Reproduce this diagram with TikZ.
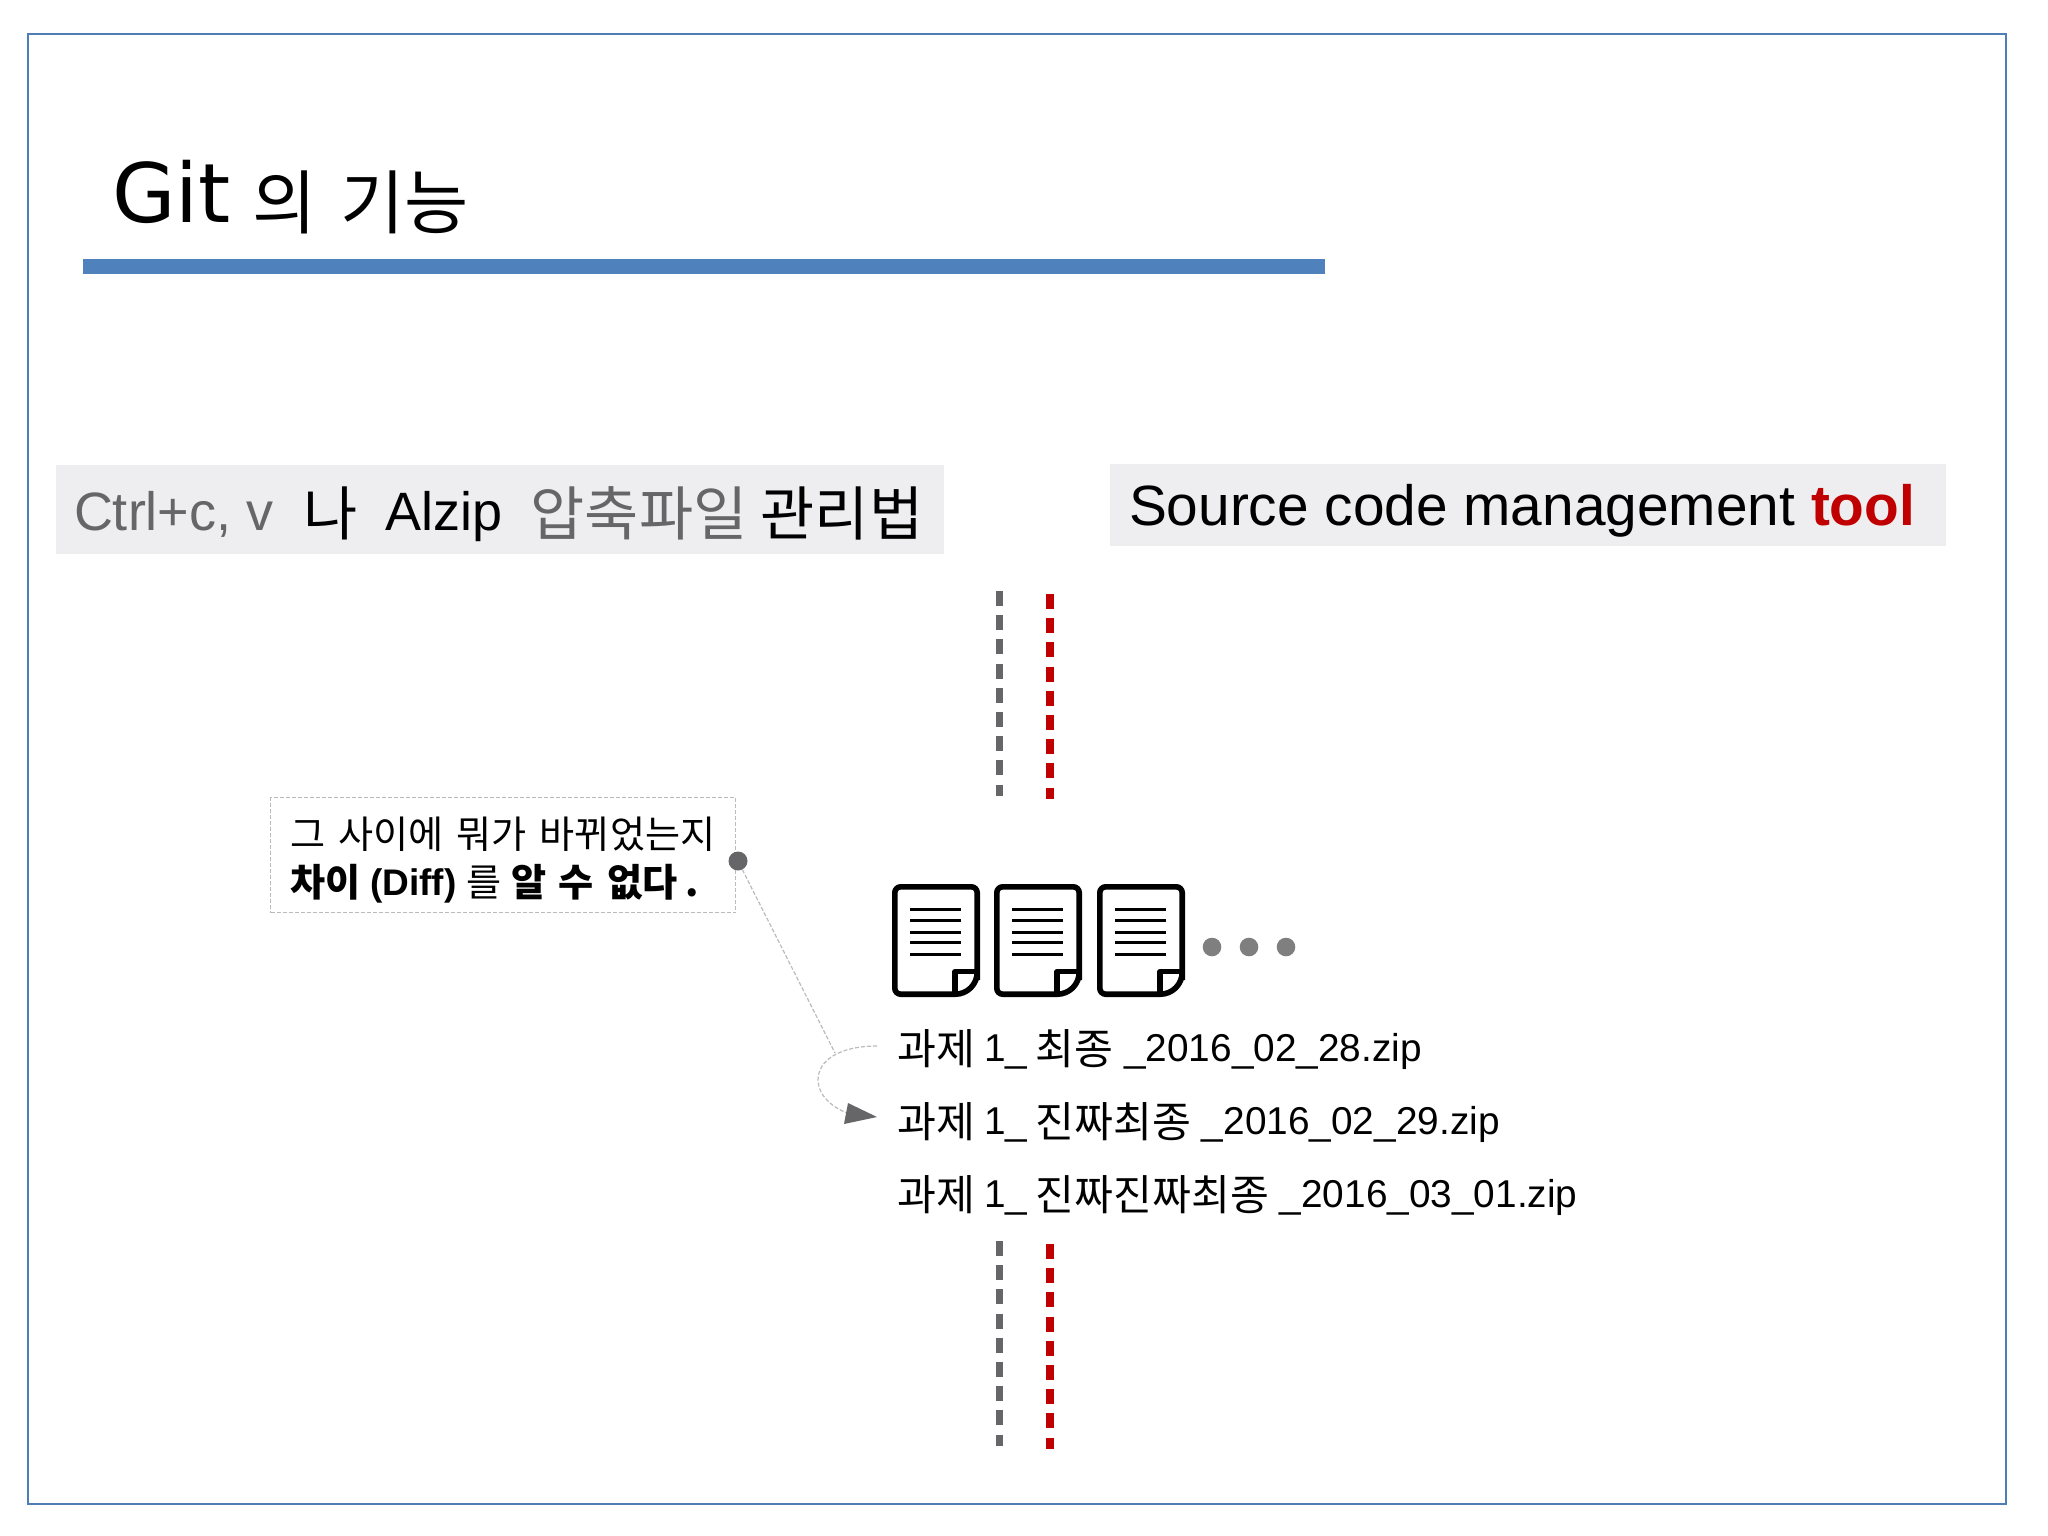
\documentclass[tikz,border=0pt]{standalone}
\usepackage{fontspec}
\setmainfont{Liberation Sans}
\newfontfamily\kofont[Scale=1.09,WordSpace=1.5]{Noto Sans CJK KR}
\newfontfamily\titlefont{DejaVu Sans}
\newcommand{\ko}[1]{\raisebox{-.1em}{\kofont #1}}
\newcommand{\fsz}[1]{\fontsize{#1}{#1}\selectfont}
\definecolor{barblue}{HTML}{4F81BD}
\definecolor{framec}{HTML}{4F7DB5}
\definecolor{panel}{HTML}{EEEEF0}
\definecolor{midgray}{HTML}{666668}
\definecolor{dotgray}{HTML}{7F7F80}
\definecolor{thingray}{HTML}{BBBBBB}
\definecolor{toolred}{HTML}{C00000}
\tikzset{
  label/.style={anchor=base west,inner sep=0pt,outer sep=0pt},
  panelbox/.style={fill=panel,draw=none,anchor=north west,inner sep=0pt},
  vdashgray/.style={draw=midgray,line width=7pt,dash pattern=on 15pt off 9.2pt},
  vdashred/.style={draw=toolred,line width=8pt,dash pattern=on 15pt off 9.2pt},
  thin dash/.style={draw=thingray,line width=1.2pt,dash pattern=on 4pt off 2pt},
  pics/docicon/.style={code={
    \draw[line width=5.6pt,rounded corners=6pt,fill=white]
      (2.8,2.8) -- (85.2,2.8) -- (85.2,88) -- (85.2,90) [rounded corners=22pt] -- (85.2,110.2) [rounded corners=6pt] -- (2.8,110.2) -- cycle;
    \draw[line width=5.2pt,line join=round] (63,110) -- (63,87.5) -- (85.2,87.5);
    \foreach \yy in {25,36,48,58,70}{\draw[line width=3pt] (18,\yy) -- (69,\yy);}
  }}
}
\begin{document}
\begin{tikzpicture}[x=1pt,y=-1pt]
\useasboundingbox (0,0) rectangle (2048,1535);
\fill[white] (0,0) rectangle (2048,1535);
\draw[framec,line width=1.6pt] (28,34) rectangle (2006,1504);
% title
\node[label] (title) at (112,222) {\fsz{82}\titlefont Git\hspace{22pt}\fsz{64}\ko{의 기능}};
\fill[barblue] (83,259) rectangle (1325,274);
% panels
\node[panelbox,minimum width=888pt,minimum height=89pt] (lbox) at (56,465) {};
\node[panelbox,minimum width=836pt,minimum height=82pt] (rbox) at (1110,464) {};
\node[label] (ltext) at (74,530) {\fsz{54}\textcolor{midgray}{Ctrl+c, v}\hspace{30pt}\ko{나}\hspace{28pt}Alzip\hspace{28pt}\textcolor{midgray}{\ko{압축파일}}\hspace{13.5pt}\ko{관리법}};
\node[label] (rtext) at (1129,525) {\fsz{56.8}Source code management \textcolor{toolred}{\bfseries tool}};
% dashed separators
\coordinate (g1a) at (999,591); \coordinate (g1b) at (999,796);
\coordinate (r1a) at (1050,594); \coordinate (r1b) at (1050,799);
\coordinate (g2a) at (999,1241); \coordinate (g2b) at (999,1446);
\coordinate (r2a) at (1050,1244); \coordinate (r2b) at (1050,1449);
\draw[vdashgray] (g1a) -- (g1b);
\draw[vdashred] (r1a) -- (r1b);
\draw[vdashgray] (g2a) -- (g2b);
\draw[vdashred] (r2a) -- (r2b);
% callout
\node[anchor=north west,draw=thingray,line width=1.2pt,dash pattern=on 4pt off 2pt,minimum width=465pt,minimum height=115pt,inner sep=0pt] (call) at (270,797) {};
\node[inner sep=0pt,align=left,xshift=0pt,yshift=-5pt,font={\fontsize{35}{48}\selectfont\kofont}] (calltext) at (call.center)
 {그 사이에 뭐가 바뀌었는지\\{\bfseries 차이\hspace{-4pt} \raisebox{1.5pt}{\fontsize{37}{48}\selectfont\rmfamily (Diff)}}\hspace{-2.6pt} 를\hspace{-2.6pt} {\bfseries 알\hspace{-1.3pt} 수 없다\hspace{-5pt} .}};
\node[circle,fill=midgray,minimum size=19pt,inner sep=0pt] (dot) at (738,861) {};
\coordinate (bend) at (835,1053);
\draw[thin dash] (dot) -- (bend);
% doc icons
\pic at (892,884) {docicon};
\pic at (994,884) {docicon};
\pic at (1097,884) {docicon};
\node[circle,fill=dotgray,minimum size=18.6pt,inner sep=0pt] (d1) at (1212,947) {};
\node[circle,fill=dotgray,minimum size=18.6pt,inner sep=0pt] (d2) at (1249,947) {};
\node[circle,fill=dotgray,minimum size=18.6pt,inner sep=0pt] (d3) at (1286,947) {};
% files
\node[label] (f1) at (897.5,1061) {\fsz{38.8}\ko{과제}\hspace{-2pt} 1\_\hspace{-2.5pt} \ko{최종} \_2016\_02\_28.zip};
\node[label] (f2) at (897.5,1134) {\fsz{38.8}\ko{과제}\hspace{-2pt} 1\_\hspace{-2.5pt} \ko{진짜최종} \_2016\_02\_29.zip};
\node[label] (f3) at (897.5,1207) {\fsz{38.8}\ko{과제}\hspace{-2pt} 1\_\hspace{-2.5pt} \ko{진짜진짜최종} \_2016\_03\_01.zip};
% loop arrow
\coordinate (cs) at (877,1046);
\coordinate (ce) at (850,1114);
\draw[thin dash] (cs) .. controls (840,1046) and (818,1060) .. (818,1080) .. controls (818,1095) and (832,1108) .. (ce);
\fill[midgray] (848,1103) -- (877,1117) -- (844,1124) -- cycle;
\end{tikzpicture}
\end{document}
